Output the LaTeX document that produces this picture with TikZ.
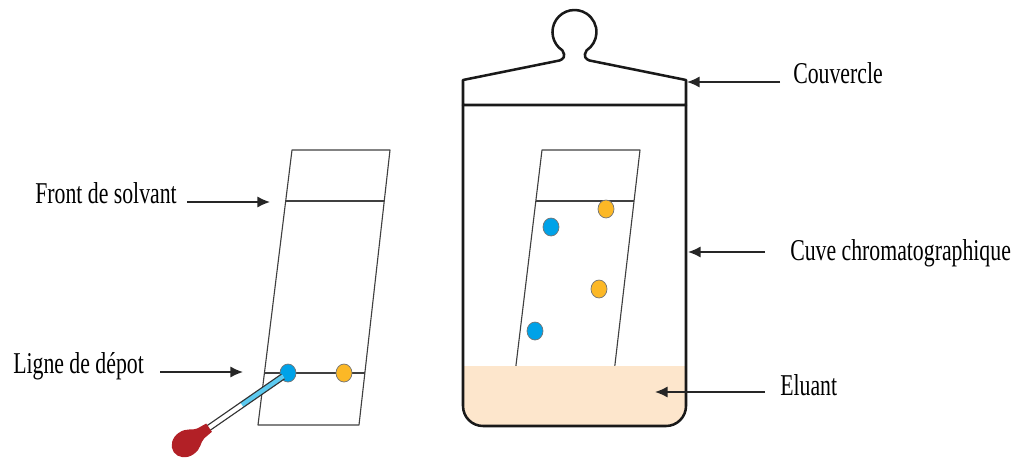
\documentclass[tikz,border=0pt]{standalone}
\usepackage{fontspec}
\setmainfont{Liberation Serif}[FakeStretch=0.72]
\usetikzlibrary{arrows.meta, positioning, shapes.geometric}
\definecolor{spotblue}{RGB}{0,162,232}
\definecolor{spotorange}{RGB}{252,184,38}
\definecolor{eluantcolor}{RGB}{253,230,204}
\definecolor{bulbred}{RGB}{178,32,38}
\definecolor{tubeblue}{RGB}{92,202,240}

\begin{document}
\begin{tikzpicture}[x=0.025cm, y=-0.025cm]
    \tikzstyle{plate}=[draw=black!75, line width=0.8pt, line join=round]
    \tikzstyle{jar}=[draw=black!90, line width=1.8pt, line join=round]
    \tikzstyle{spot}=[ellipse, draw=black!55, line width=0.5pt, minimum width=0.4cm, minimum height=0.45cm, inner sep=0pt]
    \tikzstyle{blue spot}=[spot, fill=spotblue]
    \tikzstyle{orange spot}=[spot, fill=spotorange]
    \tikzstyle{label}=[anchor=base west, inner sep=0pt, font=\fontsize{21.5}{24}\selectfont]
    \tikzstyle{pointer}=[-{Latex[length=9pt, width=8pt]}, line width=1.1pt, draw=black!85]

    \useasboundingbox (0,0) rectangle (1013,466);

    % TLC plate before migration
    \draw[plate] (258,425) -- (292,150) -- (390,150) -- (359,425) -- cycle;
    \draw[plate] (286,201) -- (384,201);
    \draw[plate] (265,373) -- (365,373);
    \node[blue spot] (depot-1) at (288,373) {};
    \node[orange spot] (depot-2) at (344,373) {};

    % micropipette laying the spot
    \begin{scope}[shift={(depot-1.center)}, rotate=214.7]
        \fill[white] (6,-2.8) rectangle (99,2.8);
        \fill[tubeblue] (6,-2.8) rectangle (56,2.8);
        \draw[black!80, line width=0.8pt] (6,-2.8) -- (99,-2.8) (6,2.8) -- (99,2.8);
        \fill[bulbred] (96,-5) -- (106,-6) .. controls (112,-7) and (114,-13) .. (124,-13)
            arc[start angle=-90, end angle=90, x radius=15, y radius=13]
            .. controls (114,13) and (112,7) .. (106,6) -- (96,5) -- cycle;
    \end{scope}

    % plate inside the tank
    \draw[plate] (513,390) -- (542,150) -- (640,150) -- (612,390);
    \draw[plate] (536,201) -- (634,201);
    \foreach \name/\pos in {o1/{(606,209)}, o2/{(599,289)}}
        \node[orange spot] (spot-\name) at \pos {};
    \foreach \name/\pos in {b1/{(551,227)}, b2/{(535,331)}}
        \node[blue spot] (spot-\name) at \pos {};

    % eluant at the bottom of the tank
    \begin{scope}
        \clip[rounded corners=0.5cm] (463,105) -- (463,426) -- (686,426) -- (686,105) -- cycle;
        \fill[eluantcolor] (450,366) rectangle (700,440);
    \end{scope}

    % tank and lid
    \draw[jar, rounded corners=0.5cm] (463,105) -- (463,426) -- (686,426) -- (686,105);
    \draw[jar] (463,105) -- (463,80) -- (557,61) .. controls (564,60) and (566,56) .. (562.4,50.4)
        arc[start angle=123.3, end angle=416.7, radius=22]
        .. controls (583,56) and (585,60) .. (592,61) -- (686,80) -- (686,105) -- cycle;

    % labels and their arrows
    \node[label] (front) at (35,203) {Front de solvant};
    \node[label] (ligne) at (13,373) {Ligne de dépot};
    \node[label] (couvercle) at (793,83) {Couvercle};
    \node[label] (cuve) at (790,260) {Cuve chromatographique};
    \node[label] (eluant) at (780,395) {Eluant};

    \coordinate (front-a) at (187,202);
    \coordinate (front-b) at (270,202);
    \coordinate (ligne-a) at (160,372);
    \coordinate (ligne-b) at (243,372);
    \coordinate (couvercle-a) at (780,82);
    \coordinate (couvercle-b) at (687,82);
    \coordinate (cuve-a) at (765,252);
    \coordinate (cuve-b) at (688,252);
    \coordinate (eluant-a) at (765,392);
    \coordinate (eluant-b) at (655,392);

    \foreach \name in {front, ligne, couvercle, cuve, eluant}
        \draw[pointer] (\name-a) -- (\name-b);
\end{tikzpicture}
\end{document}
